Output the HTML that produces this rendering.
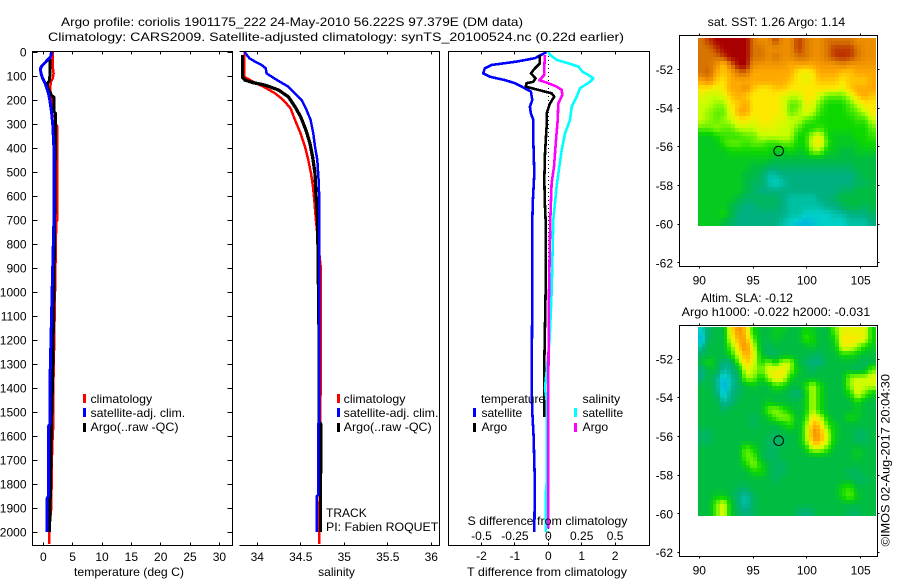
<!DOCTYPE html>
<html lang="en">
<head>
<meta charset="utf-8">
<title>Argo profile 1901175_222</title>
<style>
html,body{margin:0;padding:0;background:#fff;width:900px;height:580px;overflow:hidden}
svg{display:block}
text{font-family:"Liberation Sans",Arial,sans-serif;font-size:12px;fill:#000}
.ax{fill:none;stroke:#000;stroke-width:1;shape-rendering:crispEdges}
</style>
</head>
<body>
<svg id="chart" xmlns="http://www.w3.org/2000/svg" width="900" height="580" viewBox="0 0 900 580">
  <text x="61" y="26" textLength="462" lengthAdjust="spacingAndGlyphs">Argo profile: coriolis 1901175_222 24-May-2010 56.222S 97.379E (DM data)</text>
  <text x="48" y="41" textLength="576" lengthAdjust="spacingAndGlyphs">Climatology: CARS2009. Satellite-adjusted climatology: synTS_20100524.nc (0.22d earlier)</text>

  <g id="panel-temp"></g>
  <g id="panel-sal"></g>
  <g id="panel-diff"></g>
  <g id="panel-sst"></g>
  <g id="panel-sla"></g>

  <rect class="ax" x="32.5" y="51.5" width="200" height="494"/>
  <path class="ax" d="M239.5 51.5H439.5V545.5H239.5"/>
  <rect class="ax" x="448.5" y="51.5" width="201" height="494"/>
  <rect class="ax" x="679.5" y="35.5" width="198" height="231"/>
  <rect class="ax" x="679.5" y="325.5" width="198" height="231"/>

  <text x="129" y="576" text-anchor="middle" textLength="110" lengthAdjust="spacingAndGlyphs">temperature (deg C)</text>
  <text x="336.5" y="576" text-anchor="middle">salinity</text>
  <text x="547.5" y="525" text-anchor="middle" textLength="160" lengthAdjust="spacingAndGlyphs">S difference from climatology</text>
  <text x="547" y="576" text-anchor="middle" textLength="160" lengthAdjust="spacingAndGlyphs">T difference from climatology</text>

  <g>
    <rect x="83" y="394" width="3" height="9" fill="#f00"/>
    <text x="90.5" y="403" textLength="61.7" lengthAdjust="spacingAndGlyphs">climatology</text>
    <rect x="83" y="408" width="3" height="9" fill="#00f"/>
    <text x="90.5" y="417" textLength="94.7" lengthAdjust="spacingAndGlyphs">satellite-adj. clim.</text>
    <rect x="83" y="423" width="3" height="9" fill="#000"/>
    <text x="90.5" y="431" textLength="88" lengthAdjust="spacingAndGlyphs">Argo(..raw -QC)</text>
  </g>
  <g>
    <rect x="337" y="394" width="3" height="9" fill="#f00"/>
    <text x="343.7" y="403" textLength="61.7" lengthAdjust="spacingAndGlyphs">climatology</text>
    <rect x="337" y="408" width="3" height="9" fill="#00f"/>
    <text x="343.7" y="417" textLength="94.7" lengthAdjust="spacingAndGlyphs">satellite-adj. clim.</text>
    <rect x="337" y="423" width="3" height="9" fill="#000"/>
    <text x="343.7" y="431" textLength="88" lengthAdjust="spacingAndGlyphs">Argo(..raw -QC)</text>
  </g>
  <text x="326" y="517" textLength="40.7" lengthAdjust="spacingAndGlyphs">TRACK</text>
  <text x="326" y="531" textLength="112.3" lengthAdjust="spacingAndGlyphs">PI: Fabien ROQUET</text>

  <g>
    <text x="481" y="403" textLength="64" lengthAdjust="spacingAndGlyphs">temperature</text>
    <text x="582.5" y="403" textLength="37.7" lengthAdjust="spacingAndGlyphs">salinity</text>
    <rect x="473" y="408" width="3" height="9" fill="#00f"/>
    <text x="481.5" y="417" textLength="40.7" lengthAdjust="spacingAndGlyphs">satellite</text>
    <rect x="473" y="423" width="3" height="9" fill="#000"/>
    <text x="481.5" y="431" textLength="25.7" lengthAdjust="spacingAndGlyphs">Argo</text>
    <rect x="574" y="408" width="3" height="9" fill="#0ff"/>
    <text x="582.5" y="417" textLength="40.7" lengthAdjust="spacingAndGlyphs">satellite</text>
    <rect x="574" y="423" width="3" height="9" fill="#f0f"/>
    <text x="582.5" y="431" textLength="25.7" lengthAdjust="spacingAndGlyphs">Argo</text>
  </g>

  <text x="707.7" y="26" textLength="137.5" lengthAdjust="spacingAndGlyphs">sat. SST: 1.26 Argo: 1.14</text>
  <text x="701" y="302" textLength="92" lengthAdjust="spacingAndGlyphs">Altim. SLA: -0.12</text>
  <text x="681.7" y="316" textLength="188.5" lengthAdjust="spacingAndGlyphs">Argo h1000: -0.022 h2000: -0.031</text>
  <text transform="translate(889.5 546.5) rotate(-90)" textLength="172.5" lengthAdjust="spacingAndGlyphs">©IMOS 02-Aug-2017 20:04:30</text>
</svg>

<script>
// ---- Temperature panel data (depth in m, temperature in deg C)
const climTempDepth = [0,60,90,110,125,150,180,210,250,300,310,700,710,1000,1200,1400,1550,1650,1750,1900,1990,2050];
const climTempValue = [1.6,1.6,1.75,1.6,1.3,1.15,1.3,1.5,1.9,2.1,2.4,2.4,2.2,2.0,1.85,1.7,1.7,1.5,1.45,1.35,1.0,1.0];
const satTempDepth = [0,20,30,60,70,90,110,130,170,200,250,300,400,700,1000,1400,1550,1560,1850,1860,2000];
const satTempValue = [1.4,1.25,0.85,-0.3,-0.5,-0.4,-0.1,0.3,0.85,1.1,1.4,1.6,1.8,1.8,1.5,1.1,1.1,0.85,0.85,0.65,0.65];
const argoTempDepth = [30,100,120,130,150,165,180,190,250,255,300,700,1000,1400,1550,1700,1900,2000];
const argoTempValue = [1.1,1.1,1.0,0.75,0.75,1.1,1.4,1.85,1.85,2.1,2.1,1.95,1.8,1.55,1.4,1.3,1.15,1.05];

// ---- Salinity panel data
const climSalDepth = [0,100,105,124,144,172,200,235,283,339,394,450,505,561,617,700,900,1000,1300,1700,2050];
const climSalValue = [33.854,33.847,33.858,33.954,34.069,34.203,34.299,34.383,34.433,34.498,34.548,34.586,34.617,34.64,34.655,34.674,34.73,34.73,34.73,34.72,34.71];
const satSalDepth = [0,26,40,54,68,89,103,124,144,172,200,242,283,339,394,450,533,617,1000,1540,1550,1845,1850,2000];
const satSalValue = [33.854,33.908,33.973,34.05,34.096,34.107,34.165,34.26,34.356,34.433,34.51,34.567,34.613,34.644,34.663,34.69,34.705,34.713,34.715,34.71,34.70,34.70,34.685,34.685];
const argoSalDepth = [12,105,117,128,138,158,186,228,269,325,380,436,505,589,700,900,1200,1540,1550,1750,1760,2000];
const argoSalValue = [33.83,33.83,33.858,33.954,34.088,34.241,34.356,34.433,34.498,34.559,34.605,34.636,34.663,34.674,34.693,34.70,34.71,34.71,34.73,34.73,34.725,34.725];

// ---- Difference panel data
const satTDiffDepth = [0,26,40,54,68,89,103,117,130,144,165,200,228,256,283,367,505,617,700,1000,1400,1500,1600,1800,2000];
const satTDiffValue = [-0.05,-0.4,-0.95,-1.7,-1.9,-1.95,-1.75,-1.3,-1.0,-0.8,-0.52,-0.48,-0.55,-0.52,-0.45,-0.45,-0.42,-0.46,-0.48,-0.48,-0.5,-0.48,-0.44,-0.4,-0.42];
const argoTDiffDepth = [12,47,68,89,110,124,130,144,158,172,186,214,256,311,422,533,644,700,1000,1300,1520];
const argoTDiffValue = [-0.25,-0.25,-0.4,-0.52,-0.38,-0.45,-0.65,-0.68,-0.3,0.1,0.18,0.05,-0.05,-0.05,-0.1,-0.12,-0.1,-0.08,-0.08,-0.12,-0.12];
const satSDiffDepth = [0,12,33,47,61,82,96,110,124,151,186,228,283,339,408,478,561,700,1000,1200,1400,1450,1800,1850,2000];
const satSDiffValue = [0,0.0125,0.0625,0.15,0.225,0.255,0.3,0.3375,0.3125,0.2375,0.2125,0.175,0.1625,0.125,0.1,0.0825,0.0625,0.0375,0.025,0.01,-0.025,-0.0125,-0.0125,-0.02,-0.02];
const argoSDiffDepth = [12,61,96,117,130,144,158,179,214,283,367,478,547,700,1000,1400,1985];
const argoSDiffValue = [-0.025,-0.03,-0.03,-0.0675,0,0.0625,0.1,0.105,0.075,0.07,0.0575,0.0425,0.025,0.015,0.005,0,0];

// ---- Tick values and labels
const depthTicks = [0,100,200,300,400,500,600,700,800,900,1000,1100,1200,1300,1400,1500,1600,1700,1800,1900,2000];
const tempTicks = [0,5,10,15,20,25,30];
const salTicks = ["34","34.5","35","35.5","36"];
const tDiffTicks = ["-2","-1","0","1","2"];
const sDiffTicks = ["-0.5","-0.25","0","0.25","0.5"];
const lonTicks = [90,95,100,105];
const latTicks = [-52,-54,-56,-58,-60,-62];

// ---- Float position
const argoLon = 97.379;
const argoLat = -56.222;

// ---- Map cell values, colour index 0 (blue) .. 10 (dark red), top row first
const sstCells = [
[9,9.5,10,10,10,10,10,9,8.5,8.5,9.5,8.5,8.5,9.5,9,8.5,8.5,9,9,9,9,8.5,8.5,8.5],
[9,9,9.5,10,10,10,10,9,9,8.5,8.5,8.5,8.5,9.5,9,8.5,8.5,9,9.5,9.5,9.5,9,8.5,8.5],
[9,9,9,9.5,10,10,10,9,9,8.5,9,8.5,8.5,9,9,8.5,8.5,9,9.5,9.6,9.5,9,8.5,8.5],
[9,9,8.5,7.5,9,10,10,8.5,8.3,8.3,8.3,8.3,8,8,8,8,8.3,8.3,8.3,8.7,8.3,8.3,8.3,8.3],
[9,9.2,8,7.5,8,9,9,8,8,8,8,8,8,7,6.5,7,8,8,8,7.5,7.5,8,8,8],
[8,8.5,7.5,7,8,8,8,8,8,8,8,8,7.5,7,6.5,7,7.5,7.5,7.5,7,7.5,7.5,7.5,8],
[7,7,6.5,7,8,8,8.5,7.5,7,7,7.5,7.5,7,7,7,7,7,7,7,6.5,7.5,8,8,8],
[6.5,6,6,6.5,7.5,8,7.5,7,7,7,7,6.5,6,6,7,7,6,5,5,5,6,7.5,8,7.5],
[6,6,5.5,5.5,7,7.5,8,7,7,7,7,6.5,5,5,6.5,6.5,5,4,4,4,5,6,7,7],
[6,5.5,5,5,6.5,8,8,7,7,7,7,6.5,5,5.5,6.5,6,4.5,4,4,4,4.5,5,6,7],
[6,5.5,5,5.5,6,7,7,6.5,7,7,6.5,6.5,6,6,5,4.5,4,4,4,4,4,4.5,4.5,6],
[5,5,5.5,5,5,6,6,6,6.5,6.5,6.5,6,6,5,4,4,4.5,4,4,4,4,4,4,5],
[3.5,3.5,4,4.5,4.5,4.5,5,5,6,6,6,6,6,4,4,6,6.5,4,3.5,3.5,3.5,4,4,4.5],
[3.5,3.5,3.5,4.5,5,5,4.5,5,5,4.5,4.5,5,5,4,4,6.5,7,4.5,3.5,3.5,3.5,3.5,4,4],
[3.5,3.5,3.5,3.5,4,4,4,4,4,4,3.5,3.5,4,3.5,3.5,5.5,5.5,3.5,3.5,3,3,3.5,3.5,3.5],
[3.5,3.5,3.5,3.5,3.5,3.5,3.5,3.5,3.5,3.5,3,3,3,3,3,3,3,3,3,3,3,3,3,3],
[3.5,3.5,3.5,3.5,3.5,3.5,3.5,3,3,2.5,2.5,2.5,2.5,2.5,2.5,2.5,2.5,2.5,2.5,2.5,2.5,3,3,3],
[3.5,3.5,3.5,3.5,3.5,3.5,3,3,2.5,1.5,1.5,2,2,2,2,2,2,2,2,2,2,2.5,3,3],
[3.5,3.5,3.5,3.5,3.5,3.5,3,2.5,2.5,1.5,1,1.5,2,2,2,2,2,2,2,2,2,2.5,2.5,3],
[3.5,3.5,3.5,3.5,3.5,3.5,3,2.5,2,2,2,2,2,2,2,2,2,2,2,2.5,2.5,3,3,3],
[3.5,3.5,3.5,3.5,3.5,3,2.5,2.5,2.5,2.5,2.5,2,1.5,1.5,1.5,1.5,2,2,2.5,3,3,3,3,3],
[3.5,3.5,3.5,3.5,3,2.5,2,2,2.5,2.5,2.5,2,1.5,1.5,1.5,1.5,1.5,2,2,2.5,3,3,2.5,3],
[3.5,3.5,3.5,4,3,2,2,2,2,2,2,2,1.5,1.5,1,1,1,1,1.5,1.5,2,2,2,2.5],
[3.5,3.5,3.5,3,2.5,2,2,2,2,2,2,1.5,1,0.8,0.6,0.8,1,1,1,1,1.5,1.5,1.5,2]
];
const slaCells = [
[1,2.5,3,3,7,8.5,7.5,4,3,3,3.5,3.5,3,3,4,3.5,3,3,5,6.5,6.5,6.5,6.5,4],
[0.5,2.5,3,3,6.5,8,8,5,3,3,3.5,3,3,3,4.5,4,3,3,4,7,7,7,6.5,4],
[1.5,3,3,3,5,7.5,8.5,6.5,3,2.5,3,3,3,3,3,3.5,3,3,3.5,6.5,6.5,5.5,4,3.5],
[2.5,3,3,3,4,6.5,8,7,3.5,2.5,2.5,3,3,3,3,2.5,2.5,3,3,4,4,3.5,3,3],
[3,4,3,2,2,5,7.5,6.5,4,5.5,4,6,6,3,2.5,2,2,3,3,3,3,3,2.5,3],
[2,3,3,1.5,2,3,6.5,6,5,6.5,6.5,7,5.5,3.5,3,2.5,3,3,3,3,3,2.5,3,5],
[2,3,2,0.5,1.5,2.5,5.5,5.5,3.5,5.5,7,6.5,4,3,3,3,3,3,3,3,5.5,6,6,6.5],
[3,3,2,0.3,1.5,2.5,3,3.5,3,3,4.5,4,3,3,4,6,4,3,3,3,5.5,6.5,6,6],
[3,3,2.5,0.5,2,2.5,3,3,3,3,3,3,2.5,2,3.5,6,4,3,3,3,4,6.5,5,3.5],
[3,3,3,1.5,2,3,3,3,3,3.5,3,3,3,3,3.5,6,4,3,3,3,3,4,3,3],
[3,3,3,2.5,3,3,3,3,3,5,5.5,4.5,3.5,3,3.5,6,4,3,3,3,3,3.5,3,3],
[3,3,3,3,3,3,3,2.5,3,3.5,5,5.5,5,3,4,7,6,3.5,3,3,4,3.5,3,3],
[3,3,3,3,3,3,3,2.5,3,3,3,3.5,4.5,3,5,8,7.5,4.5,3.5,3,3,3,3,3],
[2.5,2.5,3,3,3,3,3,3,3,3,2.5,3,3,3,5,8.5,8,6,3.5,3,3,2.5,2.5,3],
[2.5,2.5,3,3,3,3,3,3,3,2.5,2.5,2.5,3,3,5,8,8,6,3.5,3,3,2.5,2.5,3],
[3,3,3,3,3,3,5,4,3,2.5,2.5,3,3,3,3.5,6,6,4.5,3,3,3,3.5,3,3],
[3,3,3,3,3,3,5,5,3,2.5,2.5,3,3,3,3,3,3,3,3,3,3,3.5,3,3],
[3,3,3,3,3,3,4,5.5,4,3,2.5,2.5,3,3,3,3,3,3,3,3,3,3,3,3],
[3,3,3,3,3,3,3,4,4,3,2.5,2.5,3,3,3,3,3,3,3,3,2.5,2.5,3,3],
[3,3,3,3,3,3,3,3,3,3,2.5,3,3,3,3,3,3,3,3,3,3,2.5,2.5,3],
[3,3,3,3,3,2.5,2.5,3,3,3,3,3,3,3,3,3,3,3,3,4,4.5,3,3,3],
[3,3,3.5,3.5,3,2,1.5,2.5,3,3,3,3,3,3,3,3,3,3,3,4,5,3.5,3,3],
[3,3,5,6.5,3.5,2,1.5,2.5,3,3,3,3,3,3,3,3,3,3,3,3,3,3,3,3],
[3,3,5,6.5,3.5,2.5,2,2.5,3,3,3,3,3,2.5,2,2.5,3,3,3,3,2.5,2.5,3,3]
];

// ---- Axis functions
const yDepth = d => 52 + d * 0.2401;
const xTemp = t => 43.3 + t * 5.87;
const xSal = s => 257.3 + (s - 34) * 87;
const xTDiff = t => 548.3 + t * 33.4;
const xSDiff = s => 548.3 + s * 133.6;
const xLon = lon => 699.3 + (lon - 90) * 10.76;
const ySstLat = lat => 69.3 - (lat + 52) * 19.35;
const ySlaLat = lat => 359 - (lat + 52) * 19.35;

// ---- Map grid geometry in data units
const mapLonMin = 89.86;
const mapLonMax = 106.4;
const mapLatMax = -50.36;
const mapLatMin = -60.09;

const SVGNS = 'http://www.w3.org/2000/svg';

function mk(tag, parent, attrs) {
  const el = document.createElementNS(SVGNS, tag);
  for (const k in attrs) el.setAttribute(k, attrs[k]);
  parent.appendChild(el);
  return el;
}

function addText(parent, name, x, y, str, anchor) {
  const el = mk('text', parent, {x: x, y: y, 'text-anchor': anchor});
  el.textContent = str;
  
  
  return el;
}

function addTick(parent, name, x1, y1, x2, y2) {
  const el = mk('line', parent, {x1: x1, y1: y1, x2: x2, y2: y2, stroke: '#000', 'stroke-width': 1, 'shape-rendering': 'crispEdges'});
  
  
  return el;
}

function addProfile(parent, name, depths, values, xFn, color, width) {
  const pts = depths.map((d, i) => xFn(values[i]).toFixed(1) + ',' + yDepth(d).toFixed(1)).join(' ');
  const el = mk('polyline', parent, {points: pts, fill: 'none', stroke: color, 'stroke-width': width, 'stroke-linejoin': 'round', 'shape-rendering': 'crispEdges'});
  
  
  return el;
}

// Palette stops for colour index 0..10
const paletteStops = ['#0090ff','#00d0c8','#00b080','#00bc40','#0cd800','#60f000','#c8ff00','#ffe800','#ffa800','#d87400','#a80000'];

function hexToRgb(h) {
  return [parseInt(h.substr(1, 2), 16), parseInt(h.substr(3, 2), 16), parseInt(h.substr(5, 2), 16)];
}
const paletteRgb = paletteStops.map(hexToRgb);

function colourFor(v) {
  const c = Math.max(0, Math.min(10, v));
  const i = Math.min(9, Math.floor(c));
  const f = c - i;
  const a = paletteRgb[i], b = paletteRgb[i + 1];
  return 'rgb(' + [0, 1, 2].map(k => Math.round(a[k] + (b[k] - a[k]) * f)).join(',') + ')';
}

function sampleGrid(grid, r, c) {
  const rows = grid.length, cols = grid[0].length;
  const rr = Math.max(0, Math.min(rows - 1, r));
  const cc = Math.max(0, Math.min(cols - 1, c));
  const r0 = Math.floor(rr), c0 = Math.floor(cc);
  const r1 = Math.min(rows - 1, r0 + 1), c1 = Math.min(cols - 1, c0 + 1);
  const fr = rr - r0, fc = cc - c0;
  return grid[r0][c0] * (1 - fr) * (1 - fc) + grid[r0][c1] * (1 - fr) * fc + grid[r1][c0] * fr * (1 - fc) + grid[r1][c1] * fr * fc;
}

function addHeatmap(parent, name, grid, yLat) {
  const g = mk('g', parent, {});
  
  
  const sub = 2;
  const rows = grid.length * sub, cols = grid[0].length * sub;
  const lonStep = (mapLonMax - mapLonMin) / cols;
  const latStep = (mapLatMax - mapLatMin) / rows;
  for (let r = 0; r < rows; r++) {
    const y0 = Math.round(yLat(mapLatMax - r * latStep));
    const y1 = Math.round(yLat(mapLatMax - (r + 1) * latStep));
    for (let c = 0; c < cols; c++) {
      const x0 = Math.round(xLon(mapLonMin + c * lonStep));
      const x1 = Math.round(xLon(mapLonMin + (c + 1) * lonStep));
      const v = sampleGrid(grid, (r + 0.5) / sub - 0.5, (c + 0.5) / sub - 0.5);
      const cell = mk('rect', g, {x: x0, y: y0, width: x1 - x0, height: y1 - y0, fill: colourFor(v), 'shape-rendering': 'crispEdges'});
      
      
    }
  }
}

function addMapAxes(parent, prefix, yLat, top, bottom, labelY) {
  lonTicks.forEach(lon => {
    const x = Math.floor(xLon(lon)) + 0.5;
    addTick(parent, prefix + '-x-tick-top', x, top - 2, x, top);
    addTick(parent, prefix + '-x-tick-bottom', x, bottom, x, bottom + 2);
    addText(parent, prefix + '-x-tick-label', xLon(lon), labelY, String(lon), 'middle');
  });
  latTicks.forEach(lat => {
    const y = Math.floor(yLat(lat)) + 0.5;
    addTick(parent, prefix + '-y-tick-left', 677.5, y, 679.5, y);
    addTick(parent, prefix + '-y-tick-right', 877.5, y, 879.5, y);
    addText(parent, prefix + '-y-tick-label', 673, yLat(lat) + 4.5, String(lat), 'end');
  });
}

function addFloatMarker(parent, name, yLat) {
  const el = mk('circle', parent, {cx: xLon(argoLon), cy: yLat(argoLat), r: 4.8, fill: 'none', stroke: '#000', 'stroke-width': 1});
  
  
}

// ---- Temperature panel
const pT = document.getElementById('panel-temp');
depthTicks.forEach(d => {
  const y = Math.floor(yDepth(d)) + 0.5;
  addTick(pT, 'depth-tick-left', 32.5, y, 37.5, y);
  addTick(pT, 'depth-tick-right', 227.5, y, 232.5, y);
  addText(pT, 'depth-tick-label', 26.5, yDepth(d) + 4.5, String(d), 'end');
});
tempTicks.forEach(t => {
  const x = Math.floor(xTemp(t)) + 0.5;
  addTick(pT, 'temperature-tick-top', x, 51.5, x, 54.5);
  addTick(pT, 'temperature-tick-bottom', x, 542.5, x, 545.5);
  addText(pT, 'temperature-tick-label', xTemp(t), 561, String(t), 'middle');
});
addProfile(pT, 'temperature-climatology-line', climTempDepth, climTempValue, xTemp, '#f00', 2.5);
addProfile(pT, 'temperature-argo-line', argoTempDepth, argoTempValue, xTemp, '#000', 3);
addProfile(pT, 'temperature-satellite-line', satTempDepth, satTempValue, xTemp, '#00f', 3);

// ---- Salinity panel
const pS = document.getElementById('panel-sal');
salTicks.forEach(s => {
  const x = Math.floor(xSal(parseFloat(s))) + 0.5;
  addTick(pS, 'salinity-tick-top', x, 51.5, x, 54.5);
  addTick(pS, 'salinity-tick-bottom', x, 542.5, x, 545.5);
  addText(pS, 'salinity-tick-label', xSal(parseFloat(s)), 561, s, 'middle');
});
addProfile(pS, 'salinity-climatology-line', climSalDepth, climSalValue, xSal, '#f00', 2.5);
addProfile(pS, 'salinity-argo-line', argoSalDepth, argoSalValue, xSal, '#000', 3.3);
addProfile(pS, 'salinity-satellite-line', satSalDepth, satSalValue, xSal, '#00f', 2.5);

// ---- Difference panel
const pD = document.getElementById('panel-diff');
const zeroLine = addTick(pD, 'zero-difference-line', xTDiff(0), 52, xTDiff(0), 545);
zeroLine.setAttribute('stroke-dasharray', '1 3');
tDiffTicks.forEach((t, i) => {
  const x = Math.floor(xTDiff(parseFloat(t))) + 0.5;
  addTick(pD, 'difference-tick-top', x, 51.5, x, 54.5);
  addTick(pD, 'difference-tick-bottom', x, 542.5, x, 545.5);
  addText(pD, 't-difference-tick-label', xTDiff(parseFloat(t)), 560, t, 'middle');
});
sDiffTicks.forEach(s => {
  addText(pD, 's-difference-tick-label', xSDiff(parseFloat(s)), 540, s, 'middle');
});
addProfile(pD, 't-satellite-difference-line', satTDiffDepth, satTDiffValue, xTDiff, '#00f', 2.6);
addProfile(pD, 't-argo-difference-line', argoTDiffDepth, argoTDiffValue, xTDiff, '#000', 2.6);
addProfile(pD, 's-satellite-difference-line', satSDiffDepth, satSDiffValue, xSDiff, '#0ff', 2.6);
addProfile(pD, 's-argo-difference-line', argoSDiffDepth, argoSDiffValue, xSDiff, '#f0f', 2.6);

// ---- Maps
const pSst = document.getElementById('panel-sst');
addHeatmap(pSst, 'sst-heatmap', sstCells, ySstLat);
addMapAxes(pSst, 'sst-map', ySstLat, 35.5, 266.5, 284.5);
addFloatMarker(pSst, 'sst-float-position', ySstLat);

const pSla = document.getElementById('panel-sla');
addHeatmap(pSla, 'sla-heatmap', slaCells, ySlaLat);
addMapAxes(pSla, 'sla-map', ySlaLat, 325.5, 556.5, 574.5);
addFloatMarker(pSla, 'sla-float-position', ySlaLat);
</script>
</body>
</html>
